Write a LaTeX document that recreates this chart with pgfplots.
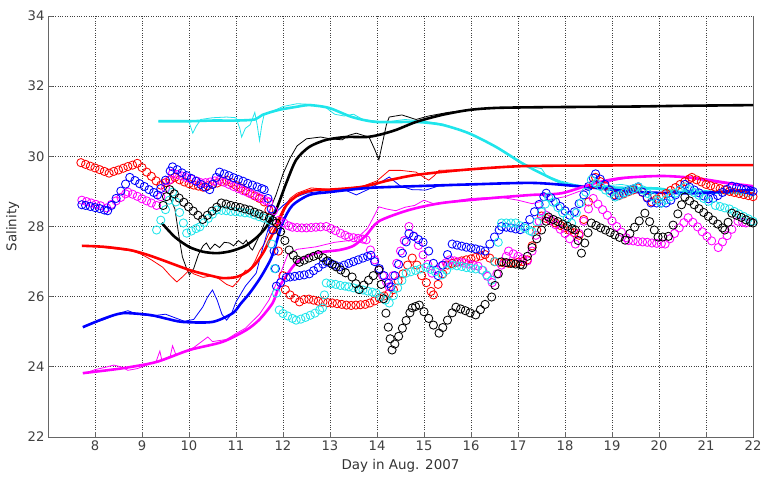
\documentclass[border=0pt]{standalone}
\usepackage{fontspec}
\setmainfont{DejaVu Sans}
\usepackage{pgfplots}
\pgfplotsset{compat=1.18}
\definecolor{mred}{rgb}{1,0,0}
\definecolor{mblue}{rgb}{0,0,1}
\definecolor{mmag}{rgb}{1,0,1}
\definecolor{mcyan}{rgb}{0.12,0.9,0.92}
\definecolor{mblack}{rgb}{0,0,0}
\pgfplotsset{
  circ/.style={only marks, mark=o, mark size=4.1bp, mark options={line width=0.85bp}},
  thick line/.style={line width=2.6bp, smooth, tension=0.45},
  thin line/.style={line width=0.8bp},
}
\begin{document}
\begin{tikzpicture}
\begin{axis}[
  scale only axis, width=705bp, height=421bp,
  xmin=7, xmax=22, ymin=22, ymax=34,
  xtick={8,...,22}, ytick={22,24,...,34},
  axis x line*=bottom, axis y line*=left,
  axis line style={-, black!60, line width=0.9bp},
  tick align=inside, major tick length=5bp,
  tick style={black!60, line width=0.7bp},
  grid=major, major grid style={dotted, black!75, line width=0.7bp},
  /pgf/number format/assume math mode=true,
  tick label style={font=\fontsize{13.2}{16}\selectfont, text=black!75},
  xlabel={Day in Aug. 2007}, ylabel={Salinity},
  every axis x label/.style={at={(rel axis cs:0.5,-0.069)}, anchor=center,
     font=\fontsize{13.5}{16}\selectfont, text=black!80},
  every axis y label/.style={at={(rel axis cs:-0.05,0.5)}, anchor=center, rotate=90,
     font=\fontsize{13.5}{16}\selectfont, text=black!80},
  clip=false,
]
\coordinate (LL) at (rel axis cs:0,0);
\coordinate (UR) at (rel axis cs:1,1);
\draw[black!60, line width=0.9bp] (rel axis cs:1,0) -- (rel axis cs:1,1);

% ---------- circle series ----------
\addplot[mred, circ] coordinates {
(7.7,29.82)(7.8,29.77)(7.9,29.72)(8.0,29.67)(8.1,29.62)(8.2,29.57)(8.3,29.52)
(8.4,29.57)(8.5,29.61)(8.6,29.66)(8.7,29.71)(8.8,29.75)(8.9,29.80)
(9.0,29.68)(9.1,29.55)(9.2,29.43)(9.3,29.30)(9.4,29.18)(9.5,29.25)(9.6,29.33)(9.7,29.40)
(9.8,29.33)(9.9,29.27)(10.0,29.22)(10.1,29.18)(10.2,29.15)(10.3,29.12)(10.4,29.16)(10.5,29.20)
(10.6,29.24)(10.7,29.28)(10.8,29.32)(10.9,29.25)(11.0,29.17)(11.1,29.10)(11.2,29.02)(11.3,28.94)
(11.4,28.87)(11.5,28.80)(11.6,28.70)(11.7,28.47)(11.8,27.9)(11.9,27.3)(12.0,26.6)(12.05,26.2)
(12.15,26.05)(12.25,25.95)(12.35,25.85)(12.45,25.92)(12.55,25.93)(12.65,25.90)(12.75,25.87)
(12.85,25.85)(12.95,25.83)(13.05,25.82)(13.15,25.80)(13.25,25.78)(13.35,25.76)(13.45,25.75)
(13.55,25.76)(13.65,25.77)(13.75,25.78)(13.85,25.82)(13.95,25.88)(14.05,25.95)(14.15,26.02)
(14.25,26.08)(14.35,26.2)(14.45,26.45)(14.55,26.65)(14.65,26.9)(14.75,27.1)(14.85,26.9)
(14.95,26.6)(15.05,26.4)(15.15,26.15)(15.2,26.05)(15.3,26.35)(15.4,26.65)(15.5,26.9)
(15.6,26.95)(15.7,26.98)(15.8,27.02)(15.9,27.05)(16.0,27.08)(16.1,27.12)(16.2,27.16)(16.3,27.2)
(16.4,27.1)(16.5,27.0)(16.6,26.98)(16.7,26.96)(16.8,26.95)(16.9,26.96)(17.0,26.98)(17.1,27.0)
(17.2,27.05)(17.3,27.45)(17.4,27.9)(17.5,28.3)(17.6,28.23)(17.7,28.16)(17.8,28.1)(17.9,28.03)
(18.0,27.96)(18.1,27.89)(18.2,27.82)(18.3,27.75)(18.4,28.2)(18.5,28.7)(18.6,29.2)(18.65,29.4)
(18.75,29.28)(18.85,29.15)(18.95,29.03)(19.05,28.9)(19.15,28.88)(19.25,28.93)(19.35,28.99)
(19.45,29.04)(19.55,29.1)(19.65,28.97)(19.75,28.83)(19.85,28.7)(19.95,28.78)(20.05,28.86)
(20.15,28.94)(20.25,29.03)(20.35,29.11)(20.45,29.2)(20.55,29.28)(20.65,29.36)(20.7,29.4)
(20.8,29.33)(20.9,29.27)(21.0,29.2)(21.1,29.16)(21.2,29.12)(21.3,29.08)(21.4,29.04)(21.5,29.0)
(21.6,28.97)(21.7,28.94)(21.8,28.91)(21.9,28.88)(22.0,28.85)
};
\addplot[mmag, circ] coordinates {
(7.72,28.75)(7.82,28.71)(7.92,28.67)(8.02,28.63)(8.12,28.59)(8.25,28.53)
(8.35,28.63)(8.45,28.73)(8.55,28.83)(8.65,28.93)(8.7,28.98)
(8.8,28.92)(8.9,28.86)(9.0,28.79)(9.1,28.73)(9.2,28.67)(9.31,28.6)
(9.4,28.85)(9.5,29.1)(9.58,29.33)(9.65,29.52)(9.75,29.48)(9.85,29.44)(9.95,29.39)(10.05,29.35)
(10.16,29.3)(10.25,29.25)(10.35,29.25)(10.45,29.27)(10.55,29.3)(10.65,29.32)
(10.75,29.26)(10.85,29.2)(10.95,29.14)(11.05,29.08)(11.15,29.02)(11.25,28.97)(11.35,28.91)
(11.45,28.85)(11.55,28.79)(11.65,28.73)(11.7,28.7)(11.8,28.45)(11.92,28.18)(12.02,28.1)
(12.12,28.02)(12.2,27.98)(12.3,27.97)(12.4,27.96)(12.5,27.96)(12.6,27.97)(12.7,27.98)
(12.8,27.99)(12.92,28.0)(13.02,27.94)(13.12,27.88)(13.22,27.81)(13.32,27.75)(13.4,27.7)
(13.5,27.68)(13.6,27.66)(13.7,27.64)(13.77,27.62)(13.86,27.33)(13.95,27.05)(14.04,26.76)
(14.12,26.6)(14.2,26.42)(14.26,26.28)(14.34,26.6)(14.42,26.95)(14.5,27.3)(14.58,27.6)(14.68,28.0)
(14.78,27.73)(14.88,27.46)(14.98,27.19)(15.08,26.92)(15.17,26.67)(15.27,26.77)(15.37,26.87)
(15.47,26.97)(15.55,27.05)(15.65,27.02)(15.75,26.99)(15.85,26.96)(15.95,26.93)(16.05,26.9)
(16.15,26.87)(16.25,26.75)(16.35,26.58)(16.45,26.4)(16.55,26.65)(16.65,26.9)(16.75,27.15)
(16.8,27.3)(16.9,27.22)(17.0,27.15)(17.1,27.08)(17.2,27.02)(17.3,27.3)(17.38,27.75)(17.45,28.15)
(17.5,28.45)(17.6,28.32)(17.7,28.18)(17.8,28.05)(17.9,27.92)(18.0,27.8)(18.1,27.65)(18.22,27.5)
(18.3,27.8)(18.4,28.15)(18.5,28.5)(18.6,28.8)(18.7,28.64)(18.8,28.48)(18.9,28.32)(19.0,28.16)
(19.1,28.0)(19.2,27.84)(19.3,27.68)(19.35,27.6)(19.45,27.59)(19.55,27.57)(19.65,27.56)
(19.75,27.55)(19.85,27.53)(19.95,27.52)(20.05,27.51)(20.13,27.5)(20.23,27.65)(20.33,27.8)
(20.43,27.96)(20.53,28.11)(20.62,28.25)(20.72,28.12)(20.82,27.99)(20.92,27.85)(21.02,27.72)
(21.12,27.59)(21.26,27.4)(21.35,27.56)(21.45,27.74)(21.55,27.92)(21.68,28.15)(21.78,28.12)(21.85,28.1)
};
\addplot[mblue, circ] coordinates {
(7.72,28.62)(7.8,28.6)(7.9,28.57)(8.0,28.54)(8.1,28.51)(8.2,28.47)(8.27,28.45)
(8.35,28.6)(8.45,28.8)(8.55,29.01)(8.65,29.21)(8.74,29.4)(8.85,29.31)(8.95,29.22)(9.05,29.14)
(9.15,29.05)(9.25,28.97)(9.33,28.9)(9.4,29.08)(9.5,29.32)(9.6,29.58)(9.65,29.7)(9.75,29.62)
(9.85,29.53)(9.95,29.45)(10.05,29.37)(10.15,29.29)(10.25,29.2)(10.35,29.12)(10.44,29.05)
(10.5,29.2)(10.58,29.4)(10.65,29.55)(10.75,29.5)(10.85,29.45)(10.95,29.39)(11.05,29.34)
(11.15,29.29)(11.25,29.23)(11.35,29.18)(11.45,29.13)(11.55,29.08)(11.6,29.05)(11.68,28.8)
(11.75,28.5)(11.78,27.9)(11.81,27.3)(11.84,26.8)(11.86,26.3)(11.95,26.4)(12.07,26.55)
(12.15,26.56)(12.25,26.58)(12.35,26.6)(12.45,26.62)(12.56,26.65)(12.65,26.74)(12.75,26.83)
(12.85,26.93)(12.92,27.0)(13.0,26.96)(13.1,26.9)(13.2,26.85)(13.3,26.9)(13.4,26.95)(13.5,27.0)
(13.6,27.05)(13.7,27.1)(13.8,27.15)(13.87,27.18)(13.95,27.0)(14.05,26.8)(14.15,26.6)(14.25,26.38)
(14.3,26.28)(14.38,26.6)(14.46,26.92)(14.54,27.24)(14.62,27.56)(14.68,27.8)(14.78,27.72)
(14.88,27.63)(14.98,27.55)(15.1,27.3)(15.2,26.95)(15.3,26.6)(15.4,26.9)(15.5,27.2)(15.6,27.5)
(15.7,27.47)(15.8,27.44)(15.9,27.41)(16.0,27.39)(16.1,27.36)(16.2,27.33)(16.3,27.3)(16.4,27.5)
(16.5,27.7)(16.6,27.9)(16.65,28.0)(16.75,27.98)(16.85,27.96)(16.95,27.93)(17.05,27.91)
(17.15,28.0)(17.25,28.2)(17.35,28.42)(17.45,28.63)(17.55,28.85)(17.6,28.95)(17.7,28.82)
(17.8,28.7)(17.9,28.57)(18.0,28.45)(18.1,28.32)(18.2,28.42)(18.3,28.65)(18.4,28.9)(18.5,29.14)
(18.6,29.38)(18.65,29.5)(18.75,29.35)(18.85,29.2)(18.95,29.04)(19.05,28.88)(19.15,28.9)
(19.25,28.96)(19.35,29.02)(19.45,29.07)(19.56,29.13)(19.65,28.98)(19.75,28.81)(19.83,28.67)
(19.95,28.67)(20.05,28.67)(20.15,28.67)(20.25,28.75)(20.35,28.9)(20.45,29.05)(20.55,29.2)
(20.65,29.12)(20.75,29.04)(20.85,28.96)(20.95,28.87)(21.05,28.79)(21.15,28.8)(21.25,28.88)
(21.35,28.97)(21.45,29.06)(21.55,29.15)(21.65,29.12)(21.75,29.08)(21.85,29.05)(21.95,29.02)(22.0,29.0)
};
\addplot[mcyan, circ] coordinates {
(9.31,27.9)(9.4,28.18)(9.5,28.48)(9.58,28.75)(9.65,28.98)(9.72,28.7)(9.8,28.4)(9.88,28.1)
(9.95,27.81)(10.05,27.87)(10.15,27.94)(10.23,27.99)(10.32,28.11)(10.41,28.23)(10.5,28.35)
(10.59,28.47)(10.69,28.46)(10.79,28.45)(10.89,28.43)(10.99,28.42)(11.09,28.41)(11.19,28.39)
(11.29,28.38)(11.39,28.33)(11.49,28.28)(11.59,28.24)(11.71,28.18)(11.76,27.5)(11.82,26.8)
(11.86,26.1)(11.92,25.62)(12.0,25.52)(12.1,25.45)(12.2,25.38)(12.28,25.33)(12.38,25.36)
(12.48,25.41)(12.58,25.47)(12.68,25.53)(12.78,25.62)(12.84,25.68)(12.88,26.05)(12.92,26.39)
(13.02,26.37)(13.12,26.35)(13.22,26.32)(13.32,26.3)(13.4,26.28)(13.5,26.25)(13.6,26.22)
(13.7,26.19)(13.8,26.16)(13.9,26.13)(13.98,26.1)(14.08,26.0)(14.18,25.9)(14.26,25.82)
(14.35,26.03)(14.44,26.25)(14.53,26.46)(14.62,26.67)(14.72,26.71)(14.82,26.75)(14.92,26.79)
(15.04,26.84)(15.14,26.78)(15.24,26.71)(15.38,26.62)(15.48,26.75)(15.6,26.9)(15.7,26.88)
(15.8,26.86)(15.9,26.83)(16.0,26.81)(16.1,26.79)(16.23,26.76)(16.33,26.62)(16.44,26.47)
(16.51,27.0)(16.58,27.55)(16.65,28.1)(16.75,28.1)(16.85,28.1)(16.95,28.1)(17.05,28.02)
(17.15,27.95)(17.25,27.88)(17.3,27.85)(17.4,28.13)(17.5,28.41)(17.58,28.64)(17.65,28.84)
(17.75,28.69)(17.85,28.54)(17.95,28.39)(18.05,28.24)(18.14,28.1)(18.24,28.39)(18.34,28.68)
(18.44,28.98)(18.56,29.33)(18.66,29.23)(18.76,29.14)(18.86,29.04)(18.96,28.95)(19.07,28.84)
(19.17,28.9)(19.27,28.96)(19.37,29.02)(19.47,29.08)(19.56,29.13)(19.66,29.04)(19.76,28.94)
(19.86,28.85)(19.96,28.75)(20.05,28.67)(20.15,28.76)(20.25,28.85)(20.35,28.95)(20.45,29.04)
(20.55,29.13)(20.65,29.05)(20.75,28.97)(20.85,28.89)(20.95,28.8)(21.05,28.72)(21.2,28.6)
(21.3,28.57)(21.4,28.53)(21.5,28.5)(21.6,28.43)(21.7,28.36)(21.8,28.29)(21.9,28.22)(22.0,28.15)
};
\addplot[mblack, circ] coordinates {
(9.45,28.6)(9.52,28.85)(9.59,29.05)(9.69,28.93)(9.79,28.81)(9.89,28.69)(9.99,28.56)(10.09,28.44)
(10.19,28.32)(10.29,28.2)(10.39,28.32)(10.49,28.44)(10.59,28.55)(10.69,28.67)(10.79,28.64)
(10.89,28.6)(10.99,28.57)(11.09,28.54)(11.19,28.5)(11.29,28.47)(11.39,28.41)(11.49,28.36)
(11.59,28.3)(11.71,28.24)(11.78,28.17)(11.86,28.1)(11.95,27.85)(12.04,27.6)(12.13,27.33)
(12.22,27.18)(12.3,27.05)(12.35,26.98)(12.45,27.04)(12.55,27.1)(12.65,27.15)(12.75,27.2)
(12.85,27.11)(12.95,27.02)(13.05,26.92)(13.13,26.85)(13.23,26.76)(13.33,26.68)(13.47,26.56)
(13.55,26.37)(13.62,26.2)(13.72,26.33)(13.82,26.47)(13.92,26.6)(14.04,26.76)(14.09,26.35)
(14.14,25.94)(14.19,25.53)(14.24,25.13)(14.28,24.8)(14.32,24.48)(14.38,24.65)(14.46,24.87)
(14.54,25.1)(14.62,25.32)(14.7,25.54)(14.75,25.68)(14.82,25.72)(14.9,25.76)(15.0,25.57)
(15.1,25.38)(15.2,25.19)(15.32,24.96)(15.4,25.12)(15.5,25.33)(15.6,25.54)(15.68,25.7)
(15.78,25.65)(15.88,25.6)(15.98,25.54)(16.1,25.48)(16.2,25.63)(16.3,25.78)(16.44,25.99)
(16.51,26.32)(16.58,26.65)(16.65,26.99)(16.75,26.97)(16.85,26.95)(16.95,26.93)(17.05,26.91)
(17.1,26.9)(17.2,27.15)(17.3,27.4)(17.4,27.65)(17.5,27.9)(17.6,28.15)(17.65,28.27)(17.75,28.2)
(17.85,28.14)(17.95,28.07)(18.05,28.01)(18.15,27.94)(18.22,27.9)(18.28,27.6)(18.35,27.24)
(18.42,27.53)(18.49,27.82)(18.56,28.1)(18.66,28.03)(18.76,27.96)(18.86,27.9)(18.96,27.83)
(19.06,27.76)(19.16,27.69)(19.28,27.61)(19.38,27.8)(19.48,27.98)(19.58,28.16)(19.7,28.38)
(19.8,28.14)(19.9,27.9)(19.98,27.7)(20.08,27.7)(20.2,27.72)(20.3,28.04)(20.4,28.36)(20.48,28.62)
(20.55,28.84)(20.65,28.73)(20.75,28.62)(20.85,28.51)(20.95,28.4)(21.05,28.29)(21.15,28.18)
(21.25,28.07)(21.35,27.96)(21.4,27.9)(21.47,28.12)(21.55,28.38)(21.65,28.32)(21.75,28.26)
(21.85,28.19)(21.95,28.13)(22.0,28.1)
};

% ---------- thin lines ----------
\addplot[mcyan, thin line] coordinates {
(9.35,31.0)(9.6,31.0)(9.9,31.0)(10.0,30.98)(10.08,30.66)(10.15,30.85)(10.25,31.05)(10.5,31.1)
(10.8,31.12)(11.0,31.1)(11.08,30.8)(11.12,30.55)(11.2,30.8)(11.3,30.9)(11.4,31.25)(11.45,30.9)
(11.5,30.45)(11.55,30.9)(11.6,31.2)(11.8,31.3)(12.0,31.42)(12.3,31.5)(12.6,31.48)(12.9,31.4)
(13.1,31.2)(13.3,31.15)(13.5,31.2)(13.7,31.05)(14.0,31.0)(14.3,31.0)(14.6,31.05)(15.0,31.0)
(15.4,30.92)(15.9,30.68)(16.5,30.3)(17.0,29.85)(17.3,29.7)(17.5,29.65)(17.6,29.45)(17.9,29.3)
(18.2,29.2)(18.5,29.1)(18.8,29.15)(19.2,29.2)(19.6,29.1)(20.0,29.05)(20.4,29.0)(20.8,29.05)
(21.2,29.0)(21.6,28.95)(21.9,28.85)(22.0,28.9)
};
\addplot[mblack, thin line] coordinates {
(9.59,28.84)(9.7,28.5)(9.8,27.6)(9.86,27.13)(9.95,26.8)(10.01,26.62)(10.1,26.8)(10.2,27.2)
(10.3,27.45)(10.37,27.53)(10.45,27.35)(10.55,27.5)(10.65,27.4)(10.75,27.55)(10.86,27.53)
(10.95,27.45)(11.05,27.6)(11.15,27.5)(11.22,27.61)(11.3,27.4)(11.35,27.33)(11.45,27.6)
(11.55,27.9)(11.7,28.4)(11.85,28.9)(12.0,29.5)(12.15,29.95)(12.3,30.3)(12.5,30.5)(12.8,30.55)
(13.0,30.5)(13.26,30.47)(13.4,30.6)(13.56,30.66)(13.7,30.6)(13.83,30.55)(13.95,30.2)(14.04,29.9)
(14.12,30.4)(14.2,30.9)(14.26,31.12)(14.53,31.18)(14.83,31.05)(15.1,31.15)(15.5,31.25)
(16.0,31.33)(16.5,31.38)(17.0,31.4)(18.0,31.42)(19.0,31.42)(20.0,31.44)(21.0,31.45)(22.0,31.46)
};
\addplot[mred, thin line] coordinates {
(7.75,27.45)(8.0,27.43)(8.5,27.35)(8.8,27.3)(9.0,27.2)(9.2,27.05)(9.44,26.84)(9.6,26.6)
(9.74,26.42)(9.85,26.55)(10.0,26.75)(10.1,26.65)(10.3,26.55)(10.5,26.6)(10.65,26.5)(10.8,26.35)
(10.93,26.28)(11.05,26.45)(11.2,26.75)(11.29,26.76)(11.4,27.0)(11.5,27.3)(11.6,27.5)(11.7,27.8)
(11.85,28.1)(12.0,28.5)(12.15,28.8)(12.3,28.95)(12.6,29.1)(13.0,29.05)(13.4,29.1)(13.7,29.15)
(14.0,29.3)(14.26,29.6)(14.5,29.6)(14.83,29.55)(15.0,29.4)(15.1,29.32)(15.22,29.45)(15.32,29.6)
(15.8,29.62)(16.5,29.68)(17.0,29.72)(18.0,29.73)(19.0,29.74)(20.0,29.74)(21.0,29.75)(22.0,29.75)
};
\addplot[mblue, thin line] coordinates {
(7.75,25.15)(8.2,25.35)(8.5,25.52)(8.7,25.6)(8.9,25.5)(9.2,25.45)(9.5,25.5)(9.7,25.4)(9.9,25.3)
(10.1,25.35)(10.29,25.7)(10.4,26.0)(10.5,26.19)(10.6,25.9)(10.7,25.5)(10.8,25.33)(10.9,25.5)
(11.0,25.85)(11.2,26.3)(11.43,26.67)(11.55,27.3)(11.7,28.0)(11.85,28.4)(12.0,28.6)(12.2,28.8)
(12.5,28.95)(12.8,29.0)(13.0,29.05)(13.3,29.05)(13.56,28.9)(13.8,29.05)(14.0,29.2)(14.26,29.41)
(14.5,29.15)(14.75,29.05)(15.04,29.04)(15.3,29.15)(16.0,29.2)(17.0,29.25)(18.0,29.2)(19.0,29.1)
(20.0,28.95)(21.0,28.95)(22.0,29.05)
};
\addplot[mmag, thin line] coordinates {
(7.75,23.8)(8.0,23.92)(8.2,23.98)(8.4,24.05)(8.55,24.0)(8.7,23.9)(8.9,23.95)(9.1,24.05)(9.3,24.15)
(9.38,24.45)(9.42,24.2)(9.6,24.3)(9.65,24.6)(9.72,24.35)(9.9,24.42)(10.1,24.55)(10.3,24.75)
(10.4,24.85)(10.5,24.72)(10.8,24.78)(11.0,24.95)(11.2,25.1)(11.5,25.5)(11.7,25.9)(11.9,26.5)
(12.1,27.2)(12.3,27.35)(12.7,27.42)(13.1,27.55)(13.41,27.6)(13.6,27.7)(13.8,27.95)(14.04,28.56)
(14.2,28.5)(14.4,28.45)(14.6,28.55)(14.8,28.6)(15.0,28.75)(15.2,28.65)(15.5,28.7)(16.0,28.8)
(16.6,28.84)(17.0,28.75)(17.3,28.65)(17.6,28.75)(18.0,28.85)(18.3,29.0)(18.6,29.1)(19.0,29.3)
(19.5,29.42)(20.0,29.45)(20.5,29.4)(21.0,29.3)(21.5,29.2)(22.0,29.1)
};

% ---------- thick lines ----------
\addplot[mcyan, thick line] coordinates {
(9.35,31.0)(10.0,31.0)(10.5,31.02)(11.0,31.02)(11.4,31.05)(11.56,31.18)(11.9,31.32)(12.28,31.41)
(12.56,31.46)(12.98,31.38)(13.47,31.12)(13.98,30.98)(14.83,30.98)(15.38,30.9)(15.95,30.66)
(16.53,30.27)(17.08,29.81)(17.44,29.55)(17.93,29.24)(18.3,29.15)(18.65,29.13)(19.3,29.1)
(20.0,29.08)(20.41,28.98)(21.0,28.97)(21.5,28.96)(22.0,28.95)
};
\addplot[mblack, thick line] coordinates {
(9.42,28.1)(9.7,27.7)(10.0,27.42)(10.3,27.28)(10.6,27.24)(10.9,27.3)(11.2,27.45)(11.45,27.7)
(11.65,28.0)(11.86,28.5)(12.07,29.24)(12.28,29.9)(12.56,30.27)(12.92,30.47)(13.34,30.55)
(13.77,30.55)(14.04,30.61)(14.4,30.75)(14.83,30.98)(15.38,31.18)(15.95,31.32)(16.53,31.38)
(17.5,31.4)(18.5,31.41)(19.5,31.42)(20.5,31.44)(22.0,31.46)
};
\addplot[mred, thick line] coordinates {
(7.72,27.45)(8.2,27.42)(8.74,27.33)(9.1,27.2)(9.44,27.04)(10.01,26.76)(10.4,26.62)(10.71,26.53)
(11.01,26.56)(11.25,26.72)(11.43,26.96)(11.6,27.3)(11.71,27.61)(11.86,27.99)(12.07,28.6)
(12.35,28.92)(12.7,29.05)(12.98,29.05)(13.68,29.13)(14.26,29.32)(14.83,29.47)(15.81,29.61)
(17.08,29.72)(19.0,29.74)(22.0,29.75)
};
\addplot[mblue, thick line] coordinates {
(7.74,25.13)(8.2,25.38)(8.59,25.53)(9.16,25.48)(9.5,25.38)(9.86,25.28)(10.5,25.28)(10.93,25.53)
(11.1,25.8)(11.29,26.1)(11.5,26.5)(11.65,26.84)(11.78,27.2)(11.99,28.1)(12.2,28.6)(12.56,28.9)
(12.98,28.98)(13.83,29.1)(14.83,29.15)(16.0,29.2)(17.37,29.24)(18.65,29.1)(19.56,28.98)
(20.77,28.95)(22.0,29.05)
};
\addplot[mmag, thick line] coordinates {
(7.74,23.82)(8.59,23.96)(9.31,24.14)(10.01,24.48)(10.71,24.71)(11.22,25.05)(11.5,25.35)
(11.78,25.82)(11.92,26.28)(12.28,26.96)(12.7,27.24)(13.2,27.33)(13.5,27.45)(13.77,27.75)
(14.04,28.15)(14.68,28.47)(15.38,28.67)(16.44,28.81)(17.29,28.9)(17.93,28.95)(18.65,29.24)
(19.2,29.38)(20.05,29.44)(20.77,29.38)(21.47,29.24)(22.0,29.15)
};
\end{axis}
\pgfresetboundingbox
\path[use as bounding box] ([shift={(-48bp,-40bp)}]LL) rectangle ([shift={(9bp,16bp)}]UR);
\end{tikzpicture}
\end{document}
